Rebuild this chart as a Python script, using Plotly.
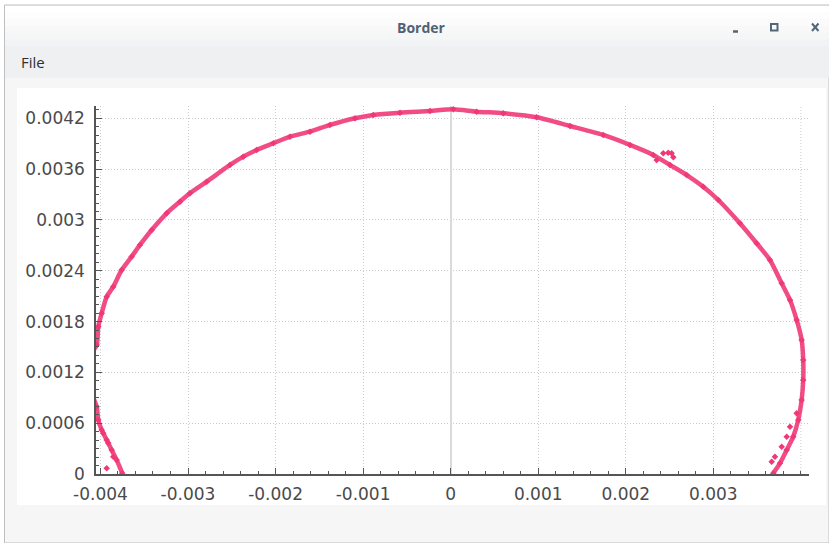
import plotly.graph_objects as go

# Boundary trace (x, y) in metres, ordered from the lower-left end round to the lower-right end.
# The points between y=0.0008 and 0.0015 on the left lie just outside the visible x range.
border_x = [-0.003751, -0.003815, -0.003872, -0.003929, -0.003986, -0.004025, -0.004043,
            -0.00412, -0.00414, -0.00412,
            -0.004043, -0.004025, -0.003986, -0.003929, -0.003854, -0.003758, -0.003644,
            -0.003549, -0.003415, -0.003244, -0.003092, -0.002978, -0.002787, -0.002521,
            -0.002369, -0.002216, -0.002026, -0.001836, -0.001607, -0.001379, -0.001093,
            -0.000884, -0.000579, -0.000236, 0.000030, 0.000297, 0.000601, 0.000982,
            0.001363, 0.001743, 0.002048, 0.002314, 0.002505, 0.002696, 0.002885,
            0.003057, 0.003304, 0.003495, 0.003647, 0.003781, 0.003876, 0.003952,
            0.004009, 0.004027, 0.004027, 0.004009, 0.003970, 0.003913, 0.003838,
            0.003761, 0.003685]
border_y = [0.000010, 0.000165, 0.000283, 0.000402, 0.000520, 0.000638, 0.000795,
            0.001000, 0.001200, 0.001400,
            0.001524, 0.001740, 0.001898, 0.002094, 0.002212, 0.002409, 0.002567,
            0.002705, 0.002882, 0.003079, 0.003216, 0.003315, 0.003452, 0.003650,
            0.003748, 0.003827, 0.003906, 0.003984, 0.004043, 0.004122, 0.004201,
            0.004240, 0.004267, 0.004287, 0.004307, 0.004279, 0.004260, 0.004213,
            0.004110, 0.004004, 0.003886, 0.003768, 0.003650, 0.003531, 0.003393,
            0.003236, 0.002961, 0.002725, 0.002528, 0.002252, 0.002055, 0.001819,
            0.001583, 0.001346, 0.001110, 0.000874, 0.000638, 0.000441, 0.000283,
            0.000126, 0.000010]

# Stray samples: inner track at the lower right, lower left, and the small hook at the upper right
stray_x = [0.003952, 0.003876, 0.003838, 0.003781, 0.003704, 0.003667,
           -0.003968, -0.003911, -0.003854, -0.003929,
           0.002353, 0.002428, 0.002485, 0.002524, 0.002543]
stray_y = [0.000717, 0.000559, 0.000441, 0.000322, 0.000204, 0.000145,
           0.000481, 0.000366, 0.000204, 0.000067,
           0.003709, 0.003788, 0.003795, 0.003788, 0.003741]

x_ticks = [-0.004, -0.003, -0.002, -0.001, 0, 0.001, 0.002, 0.003]
x_labels = ["-0.004", "-0.003", "-0.002", "-0.001", "0", "0.001", "0.002", "0.003"]
y_ticks = [0, 0.0006, 0.0012, 0.0018, 0.0024, 0.003, 0.0036, 0.0042]
y_labels = ["0", "0.0006", "0.0012", "0.0018", "0.0024", "0.003", "0.0036", "0.0042"]

W, H = 829, 543
L, R, T, B = 96, 20, 106, 69
PW, PH = W - L - R, H - T - B


def fx(p):
    return (p - L) / PW


def fy(p):
    return (H - B - p) / PH


PINK = "rgb(240,56,120)"

fig = go.Figure()
fig.add_trace(go.Scatter(
    x=border_x, y=border_y, mode="lines+markers",
    line=dict(color="rgba(240,56,120,0.9)", width=4.5, shape="spline", smoothing=0.7),
    marker=dict(color=PINK, size=5, symbol="diamond"),
    hoverinfo="skip", showlegend=False, cliponaxis=True,
))
fig.add_trace(go.Scatter(
    x=stray_x, y=stray_y, mode="markers",
    marker=dict(color=PINK, size=5, symbol="diamond"),
    hoverinfo="skip", showlegend=False,
))

shapes = []


def rect(x0, y0, x1, y1, fill, line=None):
    shapes.append(dict(type="rect", xref="paper", yref="paper", layer="below",
                       x0=fx(x0), x1=fx(x1), y0=fy(y1), y1=fy(y0),
                       fillcolor=fill, line=dict(width=0) if line is None else line))


def seg(x0, y0, x1, y1, color, width):
    shapes.append(dict(type="line", xref="paper", yref="paper",
                       x0=fx(x0), x1=fx(x1), y0=fy(y0), y1=fy(y1),
                       line=dict(color=color, width=width)))


# window body
rect(4.5, 5, 829, 543, "#f6f6f6", dict(color="#bfbfbf", width=1))
# title bar with a soft top-to-bottom shading
bands = ["#ffffff", "#fdfdfd", "#fbfbfb", "#f8f8f9", "#f5f6f6", "#f2f3f4"]
for i, c in enumerate(bands):
    rect(5, 6 + i * 6.7, 829, 6 + (i + 1) * 6.7, c)
# menu bar
rect(5, 46, 829, 78, "#eff0f2")
# chart panel
rect(17, 88, 826, 505, "#ffffff")

# title bar buttons
BTN = "#52667a"
seg(733, 31.5, 738, 31.5, BTN, 2.5)
shapes.append(dict(type="rect", xref="paper", yref="paper",
                   x0=fx(771), x1=fx(777.5), y0=fy(30.5), y1=fy(24),
                   line=dict(color=BTN, width=2), fillcolor="rgba(0,0,0,0)"))
seg(812, 23.5, 818.5, 31, BTN, 2)
seg(812, 31, 818.5, 23.5, BTN, 2)

annotations = [
    dict(text="<b>Border</b>", xref="paper", yref="paper", x=fx(421), y=fy(27),
         showarrow=False, font=dict(family="Open Sans", size=14, color="#4f6274"),
         xanchor="center", yanchor="middle"),
    dict(text="File", xref="paper", yref="paper", x=fx(19), y=fy(62),
         showarrow=False, font=dict(family="Open Sans", size=15, color="#2f2f2f"),
         xanchor="left", yanchor="middle"),
]

axis_common = dict(
    showline=True, linecolor="#555555", linewidth=1.5, mirror=False,
    ticks="inside", ticklen=6, tickwidth=1, tickcolor="#555555",
    showgrid=True, gridcolor="#cccccc", griddash="1px,2px", gridwidth=1,
    tickfont=dict(family="DejaVu Sans", size=17, color="#4a4a4a"),
    minor=dict(ticks="inside", ticklen=3, tickcolor="#555555", showgrid=False),
)

fig.update_layout(
    width=W, height=H,
    margin=dict(l=L, r=R, t=T, b=B, pad=0),
    paper_bgcolor="#ffffff", plot_bgcolor="#ffffff",
    shapes=shapes, annotations=annotations,
    xaxis=dict(range=[-0.004051, 0.004093], tickvals=x_ticks, ticktext=x_labels,
               zeroline=True, zerolinecolor="#dadada", zerolinewidth=2,
               ticklabelstandoff=4, **axis_common),
    yaxis=dict(range=[0, 0.004346], tickvals=y_ticks, ticktext=y_labels,
               zeroline=False, ticklabelstandoff=6, **axis_common),
)
fig.update_xaxes(minor=dict(dtick=0.0002, tick0=0))
fig.update_yaxes(minor=dict(dtick=0.0001, tick0=0))
# extra gridline at 0.004 on the x axis without a label
fig.add_shape(type="line", xref="x", yref="paper", x0=0.004, x1=0.004, y0=0, y1=1,
              line=dict(color="#cccccc", width=1, dash="1px,2px"), layer="below")

fig.write_html("out.html")
